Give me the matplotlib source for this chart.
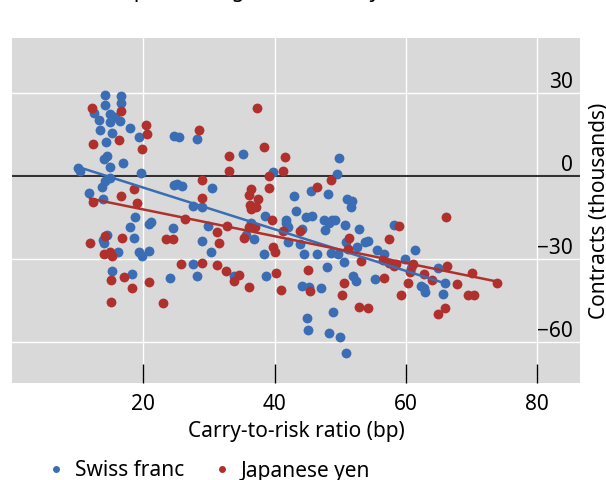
import matplotlib
matplotlib.use('Agg')
import matplotlib.pyplot as plt
from matplotlib.lines import Line2D
import numpy as np

plt.rcParams['font.family'] = ['Noto Sans', 'DejaVu Sans']
plt.rcParams['font.size'] = 15

# Swiss franc: carry-to-risk ratio (bp) vs net contracts (thousands)
chf_x = [14.2, 16.6, 14.2, 16.6, 12.5, 15.0, 13.3, 14.9, 16.5, 15.7,
         17.9, 13.4, 15.2, 14.3, 19.4, 24.6, 25.4, 28.2, 35.2, 14.0,
         14.5, 16.9, 14.9, 10.1, 10.3, 19.7, 15.0, 14.2, 13.7, 11.8,
         13.8, 24.6, 25.1, 25.9, 30.4, 27.5, 29.0, 18.7, 17.9, 20.8,
         21.2, 24.5, 29.8, 14.4, 13.9, 14.0, 18.6, 16.1, 19.4, 19.8,
         20.8, 28.9, 30.3, 15.2, 18.2, 24.0, 27.6, 28.1, 33.8, 36.4,
         35.6, 36.8, 38.6, 38.4, 38.7,
         39.7, 49.8, 49.5, 45.5, 48.1, 43.0, 43.2, 51.0, 51.8, 51.7,
         41.7, 41.8, 42.1, 44.7, 45.7, 47.5, 48.8, 49.2, 48.3, 47.7,
         50.7, 52.9, 44.2, 42.0, 43.8, 44.5, 46.4, 48.6, 49.7, 50.8,
         52.5, 53.7, 54.2, 55.6, 56.7, 58.2, 61.3, 59.9, 50.6, 48.0,
         51.9, 52.4, 55.3, 44.1, 45.3, 47.0, 48.9, 44.9, 45.1, 48.3,
         49.9, 50.9, 62.3, 62.8, 62.9, 64.8, 65.9, 65.6, 60.7]
chf_y = [29.5, 28.9, 25.9, 26.4, 22.9, 22.6, 20.4, 19.5, 20.1, 21.4,
         17.4, 16.8, 15.6, 12.3, 14.1, 14.6, 14.1, 13.3, 8.1, 6.3,
         7.4, 4.6, 3.2, 3.0, 1.8, 1.1, -0.8, -1.9, -4.0, -6.1,
         -8.4, -3.4, -2.8, -3.7, -4.2, -10.9, -11.2, -14.8, -18.4, -17.4,
         -16.6, -18.9, -18.2, -21.4, -23.2, -24.4, -22.5, -27.6, -27.6, -29.0,
         -27.2, -23.4, -27.6, -34.3, -35.6, -37.0, -31.8, -36.1, -36.2, -17.0,
         -21.4, -23.0, -14.6, -28.1, -36.1,
         1.4, 6.5, 0.6, -5.4, -6.4, -7.4, -12.5, -8.4, -9.2, -11.3,
         -15.8, -17.0, -18.4, -14.8, -14.6, -15.8, -15.8, -15.8, -17.2, -19.6,
         -17.8, -19.2, -19.2, -24.0, -24.8, -28.3, -28.4, -27.8, -28.3, -24.0,
         -25.9, -23.9, -23.6, -26.9, -28.1, -17.6, -26.9, -30.2, -31.1, -32.9,
         -36.1, -38.0, -37.4, -39.9, -40.1, -40.7, -49.2, -51.3, -55.9, -56.9,
         -58.2, -64.1, -39.8, -40.4, -42.2, -33.5, -38.7, -42.9, -33.3]

# Japanese yen
jpy_x = [12.2, 16.6, 20.4, 20.5, 12.4, 16.3, 19.8, 28.5, 37.3, 38.4,
         33.0, 33.0, 28.9, 29.0, 18.6, 16.6, 12.4, 19.0, 26.4, 32.8,
         31.2, 31.5, 36.4, 36.1, 37.4, 36.2, 36.4, 37.1, 36.1, 37.0,
         35.4, 39.1, 39.2, 11.9, 14.1, 16.7, 14.0, 15.0, 15.2, 23.5,
         24.5, 25.7, 28.9, 31.2, 32.6, 34.5, 33.8, 36.1, 15.1, 17.0,
         18.3, 20.8, 15.1, 23.0,
         41.5, 41.2, 46.4, 48.6, 39.6, 41.3, 43.9, 39.7, 40.1, 40.2,
         40.9, 45.1, 45.4, 51.3, 51.2, 53.2, 50.6, 50.2, 52.9, 54.2,
         57.4, 58.9, 56.5, 57.4, 58.5, 58.2, 61.0, 60.6, 56.7, 60.3,
         59.3, 62.7, 63.9, 66.2, 66.1, 70.0, 67.8, 73.8, 69.4, 70.3,
         66.0, 64.8]
jpy_y = [24.7, 23.5, 18.3, 15.3, 11.7, 13.2, 9.7, 16.5, 24.5, 10.4,
         7.1, 1.8, -1.5, -7.8, -4.8, -7.3, -9.4, -9.7, -15.5, -18.2,
         -20.2, -24.2, -4.6, -7.0, -8.5, -10.6, -11.8, -11.2, -18.4, -18.4,
         -22.6, -0.1, -4.2, -24.2, -21.8, -22.5, -28.1, -27.4, -29.0, -22.8,
         -22.8, -31.8, -31.4, -32.3, -34.4, -36.0, -38.2, -40.1, -37.6, -36.7,
         -40.6, -38.4, -45.6, -45.9,
         7.0, 1.8, -4.0, -1.3, -15.8, -20.0, -20.0, -25.9, -27.6, -35.3,
         -41.3, -34.1, -41.6, -22.4, -26.6, -30.7, -38.7, -43.0, -47.5, -47.7,
         -22.7, -18.1, -30.5, -31.7, -31.9, -32.7, -31.9, -34.7, -36.9, -38.9,
         -43.0, -35.5, -37.7, -32.7, -15.0, -35.0, -39.2, -38.8, -43.0, -43.1,
         -47.7, -50.0]

blue = '#3a6db4'
red = '#b0302e'

fig = plt.figure(figsize=(6.06, 4.8), dpi=100)
ax = fig.add_axes([12 / 606, 97 / 480, 568 / 606, 345 / 480])
ax.set_facecolor('#d9d9d9')
for s in ax.spines.values():
    s.set_visible(False)

ax.set_xlim(0, 86.5)
ax.set_ylim(-75, 50)
ax.set_xticks([20, 40, 60, 80])
ax.set_yticks([-60, -30, 0, 30])
ax.grid(color='white', lw=1)
ax.set_axisbelow(True)
ax.axhline(0, color='#333333', lw=1.5, zorder=1.5)

ax.scatter(chf_x, chf_y, s=50, color=blue, lw=0, zorder=2)
ax.scatter(jpy_x, jpy_y, s=50, color=red, lw=0, zorder=2)

# linear fits over each series' range
for xs, ys, c in [(chf_x, chf_y, blue), (jpy_x, jpy_y, red)]:
    xs = np.array(xs)
    slope, icpt = np.polyfit(xs, np.array(ys), 1)
    xx = np.array([xs.min(), xs.max()])
    ax.plot(xx, icpt + slope * xx, color=c, lw=1.8, zorder=3)

ax.tick_params(axis='x', direction='in', length=14, width=1, color='black', pad=8)
ax.yaxis.tick_right()
ax.tick_params(axis='y', length=0, pad=-5)
for t in ax.yaxis.get_major_ticks():
    t.label2.set_horizontalalignment('right')
    t.label2.set_verticalalignment('bottom')

ax.set_xlabel('Carry-to-risk ratio (bp)')
ax.xaxis.set_label_coords(0.5, (383 - 432) / 345)
ax.xaxis.label.set_va('center')

ax.yaxis.set_label_position('right')
ax.set_ylabel('Contracts (thousands)', rotation=90)
ax.yaxis.set_label_coords((600 - 12) / 568, 0.5)
ax.yaxis.label.set_va('center')
ax.yaxis.label.set_ha('center')

# title sits mostly above the canvas, only descenders show
fig.text(54 / 606, 1.006, 'Futures positioning and the carry trade',
         ha='left', va='baseline')

handles = [Line2D([], [], ls='none', marker='o', ms=5, color=blue, mew=0),
           Line2D([], [], ls='none', marker='o', ms=5, color=red, mew=0)]
fig.legend(handles, ['Swiss franc', 'Japanese yen'], loc='center left',
           bbox_to_anchor=(47.7 / 606, 9 / 480), ncol=2, frameon=False,
           handlelength=0.8, handletextpad=0.5, columnspacing=1.4,
           borderpad=0, borderaxespad=0)

fig.savefig('out.png', dpi=100)
